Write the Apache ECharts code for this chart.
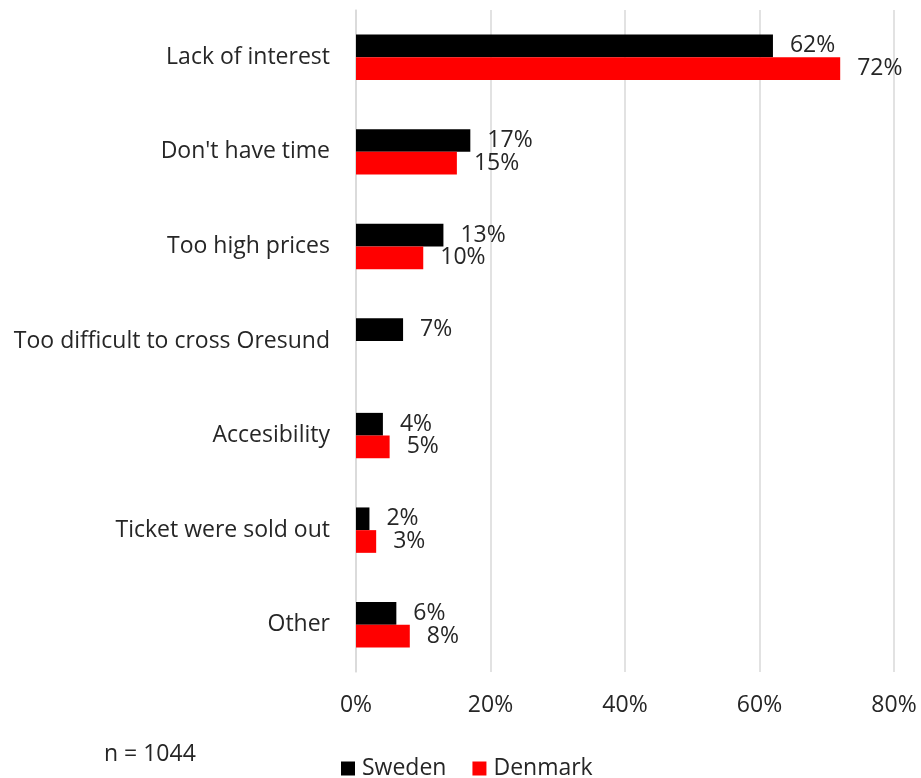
<!DOCTYPE html>
<html>
<head>
<meta charset="utf-8">
<script src="https://cdn.jsdelivr.net/npm/echarts@6/dist/echarts.min.js"></script>
<style>
  html, body { margin: 0; padding: 0; background: #ffffff; }
  #chart { width: 921px; height: 778px; }
</style>
</head>
<body>
<div id="chart"></div>
<script>
// Reasons for not attending, share of respondents per country
const categories = [
  'Lack of interest',
  "Don't have time",
  'Too high prices',
  'Too difficult to cross Oresund',
  'Accesibility',
  'Ticket were sold out',
  'Other'
];
const sweden = [62, 17, 13, 7, 4, 2, 6];
const denmark = [72, 15, 10, null, 5, 3, 8];
const xTicks = [0, 20, 40, 60, 80];
const sampleNote = 'n = 1044';

const FONT = '"Open Sans", sans-serif';
const FS = 23;
const TEXT = '#262626';

const chart = echarts.init(document.getElementById('chart'), null, { renderer: 'canvas' });

const barLabel = {
  show: true,
  position: 'right',
  distance: 17,
  formatter: p => (p.value == null ? '' : p.value + '%'),
  fontFamily: FONT,
  fontSize: FS,
  color: TEXT
};

chart.setOption({
  animation: false,
  backgroundColor: '#ffffff',
  grid: { left: 356, right: 27, top: 10, bottom: 106, containLabel: false },
  legend: {
    bottom: -7,
    left: 336,
    itemWidth: 14,
    itemHeight: 14,
    itemGap: 26,
    icon: 'rect',
    textStyle: { fontFamily: FONT, fontSize: FS, color: TEXT, padding: [0, 0, 0, 2] },
    data: ['Sweden', 'Denmark']
  },
  xAxis: {
    type: 'value',
    min: xTicks[0],
    max: xTicks[xTicks.length - 1],
    interval: xTicks[1] - xTicks[0],
    axisLine: { show: false },
    axisTick: { show: false },
    splitLine: { show: true, lineStyle: { color: '#d9d9d9', width: 1.5 } },
    axisLabel: {
      formatter: '{value}%',
      margin: 22,
      fontFamily: FONT,
      fontSize: FS,
      color: TEXT
    }
  },
  yAxis: {
    type: 'category',
    inverse: true,
    data: categories,
    axisLine: { show: true, lineStyle: { color: '#d9d9d9', width: 1.5 } },
    axisTick: { show: false },
    axisLabel: {
      margin: 26,
      fontFamily: FONT,
      fontSize: FS,
      color: TEXT
    }
  },
  series: [
    {
      name: 'Sweden',
      type: 'bar',
      data: sweden,
      barGap: '0%',
      barCategoryGap: '52%',
      itemStyle: { color: '#000000' },
      label: barLabel
    },
    {
      name: 'Denmark',
      type: 'bar',
      data: denmark,
      barGap: '0%',
      barCategoryGap: '52%',
      itemStyle: { color: '#ff0000' },
      label: barLabel
    }
  ],
  graphic: [
    {
      type: 'text',
      left: 104,
      top: 743,
      style: { text: sampleNote, font: FS + 'px ' + FONT, fill: TEXT }
    }
  ]
});
</script>
</body>
</html>
